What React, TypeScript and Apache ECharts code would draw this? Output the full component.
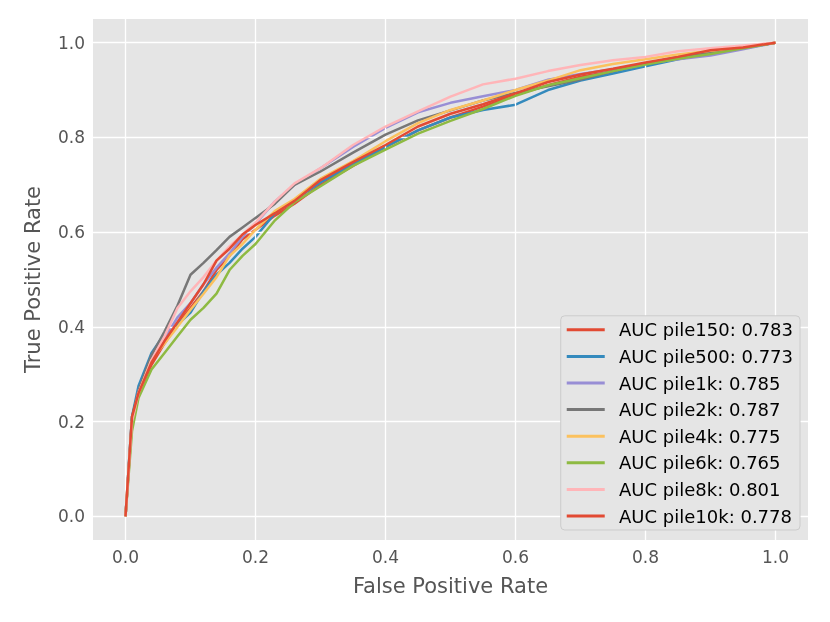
import React, { useEffect, useRef } from "react";
import * as echarts from "echarts";

const fprGrid = [0, 0.01, 0.02, 0.04, 0.06, 0.08, 0.1, 0.12, 0.14, 0.16, 0.18, 0.2, 0.23, 0.26, 0.3, 0.35, 0.4, 0.45, 0.5, 0.55, 0.6, 0.65, 0.7, 0.75, 0.8, 0.85, 0.9, 0.95, 1.0];

const pile150 = [0, 0.2, 0.255, 0.32, 0.365, 0.405, 0.44, 0.475, 0.52, 0.55, 0.585, 0.605, 0.635, 0.66, 0.7, 0.74, 0.78, 0.815, 0.842, 0.865, 0.89, 0.91, 0.928, 0.94, 0.955, 0.968, 0.98, 0.99, 1];
const pile500 = [0, 0.21, 0.275, 0.345, 0.385, 0.405, 0.43, 0.475, 0.51, 0.535, 0.565, 0.59, 0.64, 0.668, 0.705, 0.744, 0.78, 0.815, 0.842, 0.858, 0.869, 0.9, 0.92, 0.935, 0.95, 0.965, 0.978, 0.988, 1];
const pile1k = [0, 0.2, 0.265, 0.33, 0.375, 0.42, 0.45, 0.49, 0.525, 0.555, 0.59, 0.618, 0.665, 0.7, 0.735, 0.78, 0.82, 0.853, 0.873, 0.887, 0.9, 0.922, 0.934, 0.944, 0.956, 0.965, 0.973, 0.986, 1];
const pile2k = [0, 0.21, 0.265, 0.34, 0.39, 0.445, 0.51, 0.535, 0.562, 0.59, 0.61, 0.63, 0.66, 0.7, 0.728, 0.768, 0.806, 0.836, 0.857, 0.878, 0.894, 0.908, 0.922, 0.94, 0.956, 0.97, 0.98, 0.99, 1];
const pile4k = [0, 0.2, 0.26, 0.33, 0.365, 0.4, 0.436, 0.47, 0.505, 0.55, 0.575, 0.605, 0.645, 0.67, 0.713, 0.75, 0.792, 0.83, 0.858, 0.878, 0.9, 0.92, 0.942, 0.955, 0.965, 0.975, 0.983, 0.99, 1];
const pile6k = [0, 0.18, 0.25, 0.31, 0.345, 0.38, 0.415, 0.44, 0.47, 0.52, 0.55, 0.575, 0.625, 0.663, 0.697, 0.74, 0.774, 0.808, 0.835, 0.86, 0.888, 0.91, 0.925, 0.94, 0.954, 0.966, 0.976, 0.988, 1];
const pile8k = [0, 0.2, 0.26, 0.33, 0.38, 0.44, 0.475, 0.505, 0.54, 0.57, 0.595, 0.62, 0.665, 0.703, 0.735, 0.784, 0.823, 0.855, 0.886, 0.912, 0.924, 0.94, 0.953, 0.963, 0.97, 0.982, 0.988, 0.994, 1];
const pile10k = [0, 0.21, 0.26, 0.325, 0.37, 0.41, 0.45, 0.49, 0.54, 0.565, 0.595, 0.615, 0.64, 0.666, 0.71, 0.748, 0.784, 0.823, 0.85, 0.87, 0.893, 0.917, 0.933, 0.945, 0.958, 0.97, 0.984, 0.99, 1];

const seriesNames = ["AUC pile150: 0.783", "AUC pile500: 0.773", "AUC pile1k: 0.785", "AUC pile2k: 0.787", "AUC pile4k: 0.775", "AUC pile6k: 0.765", "AUC pile8k: 0.801", "AUC pile10k: 0.778"];
const seriesValues = [pile150, pile500, pile1k, pile2k, pile4k, pile6k, pile8k, pile10k];
const colors = ["#E24A33", "#348ABD", "#988ED5", "#777777", "#FBC15E", "#8EBA42", "#FFB5B8", "#E24A33"];
const tickValues = [0, 0.2, 0.4, 0.6, 0.8, 1.0];

export default function App() {
  const ref = useRef<HTMLDivElement>(null);
  useEffect(() => {
    if (!ref.current) return;
    const chart = echarts.init(ref.current, undefined, { renderer: "svg" });
    const font = "DejaVu Sans";
    const gridLines = [
      ...tickValues.map((v) => ({ xAxis: v })),
      ...tickValues.map((v) => ({ yAxis: v })),
    ];
    const axisCommon = {
      type: "value" as const,
      min: -0.05,
      max: 1.05,
      axisLine: { show: false },
      splitLine: { show: false },
      axisTick: { show: true, length: 5, lineStyle: { color: "#555555", width: 1 }, customValues: tickValues },
      axisLabel: {
        color: "#555555",
        fontSize: 17,
        fontFamily: font,
        margin: 8,
        customValues: tickValues,
        formatter: (v: number) => v.toFixed(1),
      },
      nameLocation: "middle" as const,
      nameTextStyle: { color: "#555555", fontSize: 21, fontFamily: font },
    };
    chart.setOption({
      animation: false,
      color: colors,
      grid: {
        left: 93,
        right: 22,
        top: 19,
        bottom: 82,
        show: true,
        backgroundColor: "#E5E5E5",
        borderWidth: 0,
      },
      xAxis: { ...axisCommon, name: "False Positive Rate", nameGap: 35 },
      yAxis: { ...axisCommon, name: "True Positive Rate", nameGap: 50 },
      legend: {
        orient: "vertical",
        right: 30,
        bottom: 92,
        z: 20,
        padding: [5, 7, 5, 6],
        itemGap: 8.6,
        itemWidth: 38,
        itemHeight: 3,
        icon: "rect",
        backgroundColor: "#E5E5E5",
        borderColor: "#CCCCCC",
        borderWidth: 1,
        borderRadius: 4,
        formatter: (n: string) => "\u00a0\u2009" + n,
        textStyle: { color: "#000000", fontSize: 18, fontFamily: font },
        data: seriesNames,
      },
      series: [
        {
          type: "line",
          name: "__grid",
          data: [],
          z: 1,
          silent: true,
          markLine: {
            silent: true,
            symbol: ["none", "none"],
            label: { show: false },
            lineStyle: { color: "#FFFFFF", width: 1.3, type: "solid" },
            data: gridLines,
            animation: false,
          },
        },
        ...seriesNames.map((name, i) => ({
          type: "line",
          name,
          z: 2 + i,
          showSymbol: false,
          symbol: "none",
          lineStyle: { width: 2.5, color: colors[i] },
          itemStyle: { color: colors[i] },
          data: fprGrid.map((x, j) => [x, seriesValues[i][j]]),
        })),
      ],
    });
    return () => chart.dispose();
  }, []);
  return <div ref={ref} style={{ position: "fixed", left: 0, top: 0, width: 830, height: 622 }} />;
}
